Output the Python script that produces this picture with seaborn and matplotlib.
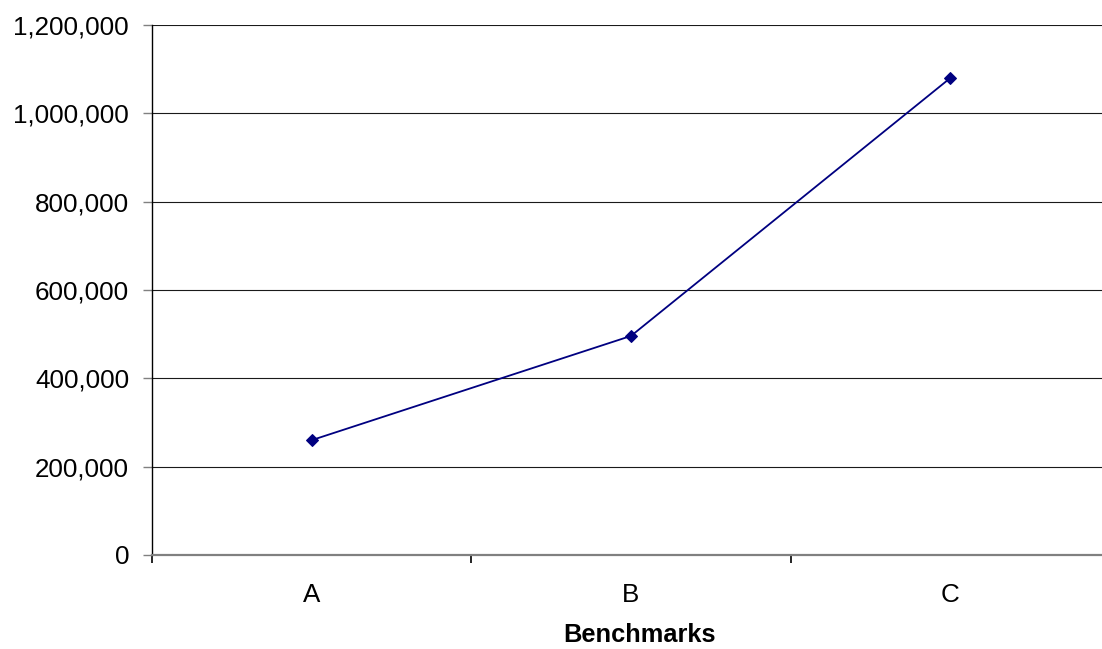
import matplotlib
matplotlib.use("Agg")
import matplotlib.pyplot as plt
from matplotlib.ticker import FuncFormatter, FixedLocator
import seaborn as sns
import pandas as pd

benchmarks = ["A", "B", "C"]
scores = [260000, 496000, 1080000]
y_ticks = [0, 200000, 400000, 600000, 800000, 1000000, 1200000]

sns.set_style("white")
plt.rcParams["font.family"] = ["Liberation Sans", "DejaVu Sans"]
plt.rcParams["text.color"] = "black"
plt.rcParams["axes.labelcolor"] = "black"
plt.rcParams["xtick.color"] = "black"
plt.rcParams["ytick.color"] = "black"

df = pd.DataFrame({"Benchmarks": benchmarks, "Score": scores})
df["pos"] = range(len(benchmarks))

fig = plt.figure(figsize=(11.02, 6.49), dpi=100)
ax = fig.add_axes([152 / 1102, (649 - 555) / 649, 958 / 1102, 530 / 649])

sns.lineplot(data=df, x="pos", y="Score", ax=ax, color="#000080", linewidth=1.3,
             marker="D", markersize=6.5, markeredgecolor="#000080",
             markerfacecolor="#000080")

ax.set_xlim(-0.5, len(benchmarks) - 0.5)
ax.set_ylim(0, 1200000)

ax.yaxis.set_major_locator(FixedLocator(y_ticks))
ax.yaxis.set_major_formatter(FuncFormatter(lambda v, p: f"{int(v):,}"))
ax.grid(axis="y", color="#1a1a1a", linewidth=0.8)
ax.set_axisbelow(True)

ax.set_xticks(range(len(benchmarks)))
ax.set_xticklabels(benchmarks)
ax.set_xticks([i - 0.5 for i in range(len(benchmarks) + 1)], minor=True)
ax.tick_params(axis="x", which="major", length=0, pad=20.5, labelsize=18.7,
               labelcolor="black")
ax.tick_params(axis="x", which="minor", bottom=True, length=6, width=1.2,
               color="black", direction="out")
ax.tick_params(axis="y", which="major", length=6.5, width=1, color="#808080",
               direction="out", pad=10, labelsize=18.7, left=True, labelcolor="black")

for s in ["top", "right"]:
    ax.spines[s].set_visible(False)
ax.spines["left"].set_color("black")
ax.spines["left"].set_linewidth(1.0)
ax.spines["bottom"].set_color("#808080")
ax.spines["bottom"].set_linewidth(1.6)

ax.set_xlabel("Benchmarks", fontsize=18.3, fontweight="bold", color="black")
ax.xaxis.set_label_coords(0.509, -0.128)
ax.set_ylabel("")

fig.savefig("out.png", dpi=100)
